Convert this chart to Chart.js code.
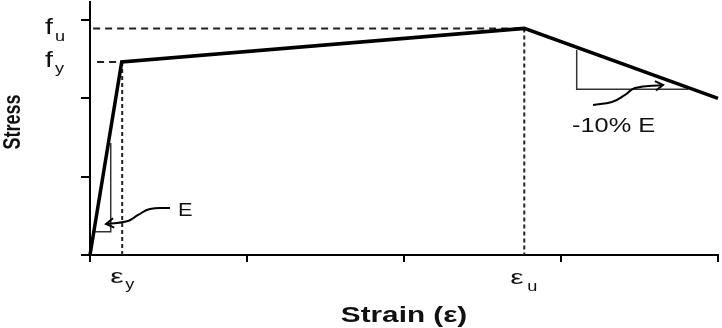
<!DOCTYPE html>
<html lang="en">
<head>
    <meta charset="UTF-8">
    <title>Stress - Strain</title>
    <script src="https://cdn.jsdelivr.net/npm/chart.js"></script>
    <style>
        html, body { margin: 0; padding: 0; background: #fff; }
        #wrap { width: 722px; height: 328px; }
    </style>
</head>
<body>
    <div id="wrap"><canvas id="chart"></canvas></div>

    <script>
        // Main stress-strain curve (arbitrary units)
        const strain = [0, 0.202, 2.766, 4.0];
        const stress = [0, 2.465, 2.893, 2.0];

        // Key points
        const epsY = 0.205, epsU = 2.766;
        const fy = 2.465, fu = 2.893;

        // Axis ranges / ticks
        const xMax = 4, yMax = 3.23;
        const tickStep = 1;

        // Slope triangles
        const triE_x = [0.017, 0.132, 0.132];
        const triE_y = [0.298, 0.298, 1.43];
        const triSoft_x = [3.10, 3.10, 3.81];
        const triSoft_y = [2.62, 2.116, 2.116];

        // Curved arrows (start at label, end at arrow tip)
        const arrowE_x = [0.51, 0.382, 0.306, 0.242, 0.102];
        const arrowE_y = [0.60, 0.587, 0.511, 0.434, 0.396];
        const arrowSoft_x = [3.204, 3.325, 3.408, 3.471, 3.65];
        const arrowSoft_y = [1.916, 1.954, 2.043, 2.133, 2.171];

        const toPts = (xs, ys) => xs.map((x, i) => ({ x: x, y: ys[i] }));

        function txt(ctx, s, x, y, font, sx, align) {
            ctx.save();
            ctx.translate(x, y);
            ctx.scale(sx, 1);
            ctx.font = font;
            ctx.textAlign = align || 'left';
            ctx.textBaseline = 'alphabetic';
            ctx.fillStyle = '#111';
            ctx.fillText(s, 0, 0);
            ctx.restore();
        }

        function arrowHead(ctx, chart, ds) {
            const pts = chart.getDatasetMeta(ds).data;
            const a = pts[pts.length - 2], b = pts[pts.length - 1];
            const ang = Math.atan2(b.y - a.y, b.x - a.x);
            const len = 9, spread = 0.55;
            ctx.save();
            ctx.strokeStyle = '#000';
            ctx.lineWidth = 2;
            ctx.beginPath();
            ctx.moveTo(b.x - len * Math.cos(ang - spread), b.y - len * Math.sin(ang - spread));
            ctx.lineTo(b.x, b.y);
            ctx.lineTo(b.x - len * Math.cos(ang + spread), b.y - len * Math.sin(ang + spread));
            ctx.stroke();
            ctx.restore();
        }

        const labelsPlugin = {
            id: 'labels',
            afterDraw(chart) {
                const ctx = chart.ctx;
                const xs = chart.scales.x, ys = chart.scales.y;
                const area = chart.chartArea;
                const font = (s, b) => (b ? 'bold ' : '') + s + 'px "Liberation Sans", Arial, sans-serif';

                // y-axis labels f_u, f_y
                const pu = ys.getPixelForValue(fu), py = ys.getPixelForValue(fy);
                txt(ctx, 'f', 45, pu + 6, font(22), 1.3);
                txt(ctx, 'u', 55, pu + 13, font(14), 1.3);
                txt(ctx, 'f', 45, py + 5, font(22), 1.3);
                txt(ctx, 'y', 55, py + 11, font(14), 1.3);

                // x-axis labels eps_y, eps_u
                const ey = xs.getPixelForValue(epsY), eu = xs.getPixelForValue(epsU);
                txt(ctx, 'ε', ey - 12, 283, font(20), 1.5);
                txt(ctx, 'y', ey + 3, 289, font(14), 1.3);
                txt(ctx, 'ε', eu - 14, 284, font(20), 1.5);
                txt(ctx, 'u', eu + 3, 291, font(14), 1.3);

                // annotation labels
                const eStart = chart.getDatasetMeta(5).data[0];
                txt(ctx, 'E', eStart.x + 8, eStart.y + 8, font(19), 1.15);
                const sStart = chart.getDatasetMeta(6).data[0];
                txt(ctx, '-10% E', sStart.x - 21, sStart.y + 27, font(19.5), 1.3);

                // axis titles
                txt(ctx, 'Strain (ε)', (area.left + area.right) / 2, 322, font(22, true), 1.35, 'center');
                ctx.save();
                ctx.translate(13.5, 122);
                ctx.rotate(-Math.PI / 2);
                ctx.scale(1, 1.32);
                ctx.font = font(18, true);
                ctx.textAlign = 'center';
                ctx.textBaseline = 'middle';
                ctx.fillStyle = '#111';
                ctx.fillText('Stress', 0, 0);
                ctx.restore();

                arrowHead(ctx, chart, 5);
                arrowHead(ctx, chart, 6);
            }
        };

        const thin = { borderColor: '#333', borderWidth: 1.5, pointRadius: 0, showLine: true, tension: 0 };
        const curve = { borderColor: '#000', borderWidth: 2, pointRadius: 0, showLine: true, tension: 0.45 };
        const dashed = { borderColor: '#222', borderWidth: 2, pointRadius: 0, showLine: true };

        new Chart(document.getElementById('chart'), {
            type: 'scatter',
            data: {
                datasets: [
                    { data: toPts(strain, stress), borderColor: '#000', borderWidth: 3.5, pointRadius: 0, showLine: true, clip: false },
                    { ...dashed, data: [{ x: 0.02, y: fu }, { x: epsU, y: fu }], borderDash: [7, 5] },
                    { ...dashed, data: [{ x: 0.045, y: fy }, { x: strain[1], y: fy }], borderDash: [7, 5] },
                    { ...dashed, data: [{ x: epsY, y: fy }, { x: epsY, y: 0 }], borderDash: [4, 3] },
                    { ...dashed, data: [{ x: epsU, y: fu }, { x: epsU, y: 0 }], borderDash: [4, 3] },
                    { ...curve, data: toPts(arrowE_x, arrowE_y) },
                    { ...curve, data: toPts(arrowSoft_x, arrowSoft_y) },
                    { ...thin, data: toPts(triE_x, triE_y) },
                    { ...thin, data: toPts(triSoft_x, triSoft_y) }
                ]
            },
            options: {
                responsive: true,
                maintainAspectRatio: false,
                animation: false,
                layout: { padding: { top: 2, right: 4, left: 0, bottom: 0 } },
                plugins: { legend: { display: false }, tooltip: { enabled: false } },
                scales: {
                    x: {
                        type: 'linear', min: 0, max: xMax,
                        ticks: { stepSize: tickStep, includeBounds: false, display: false },
                        grid: { drawOnChartArea: false, color: '#000', lineWidth: 2, tickLength: 7 },
                        border: { color: '#000', width: 2 },
                        afterFit: (s) => { s.height = 73; }
                    },
                    y: {
                        type: 'linear', min: 0, max: yMax,
                        ticks: { stepSize: tickStep, includeBounds: false, display: false },
                        grid: { drawOnChartArea: false, color: '#000', lineWidth: 2, tickLength: 9 },
                        border: { color: '#000', width: 2 },
                        afterFit: (s) => { s.width = 90; }
                    }
                }
            },
            plugins: [labelsPlugin]
        });
    </script>
</body>
</html>
